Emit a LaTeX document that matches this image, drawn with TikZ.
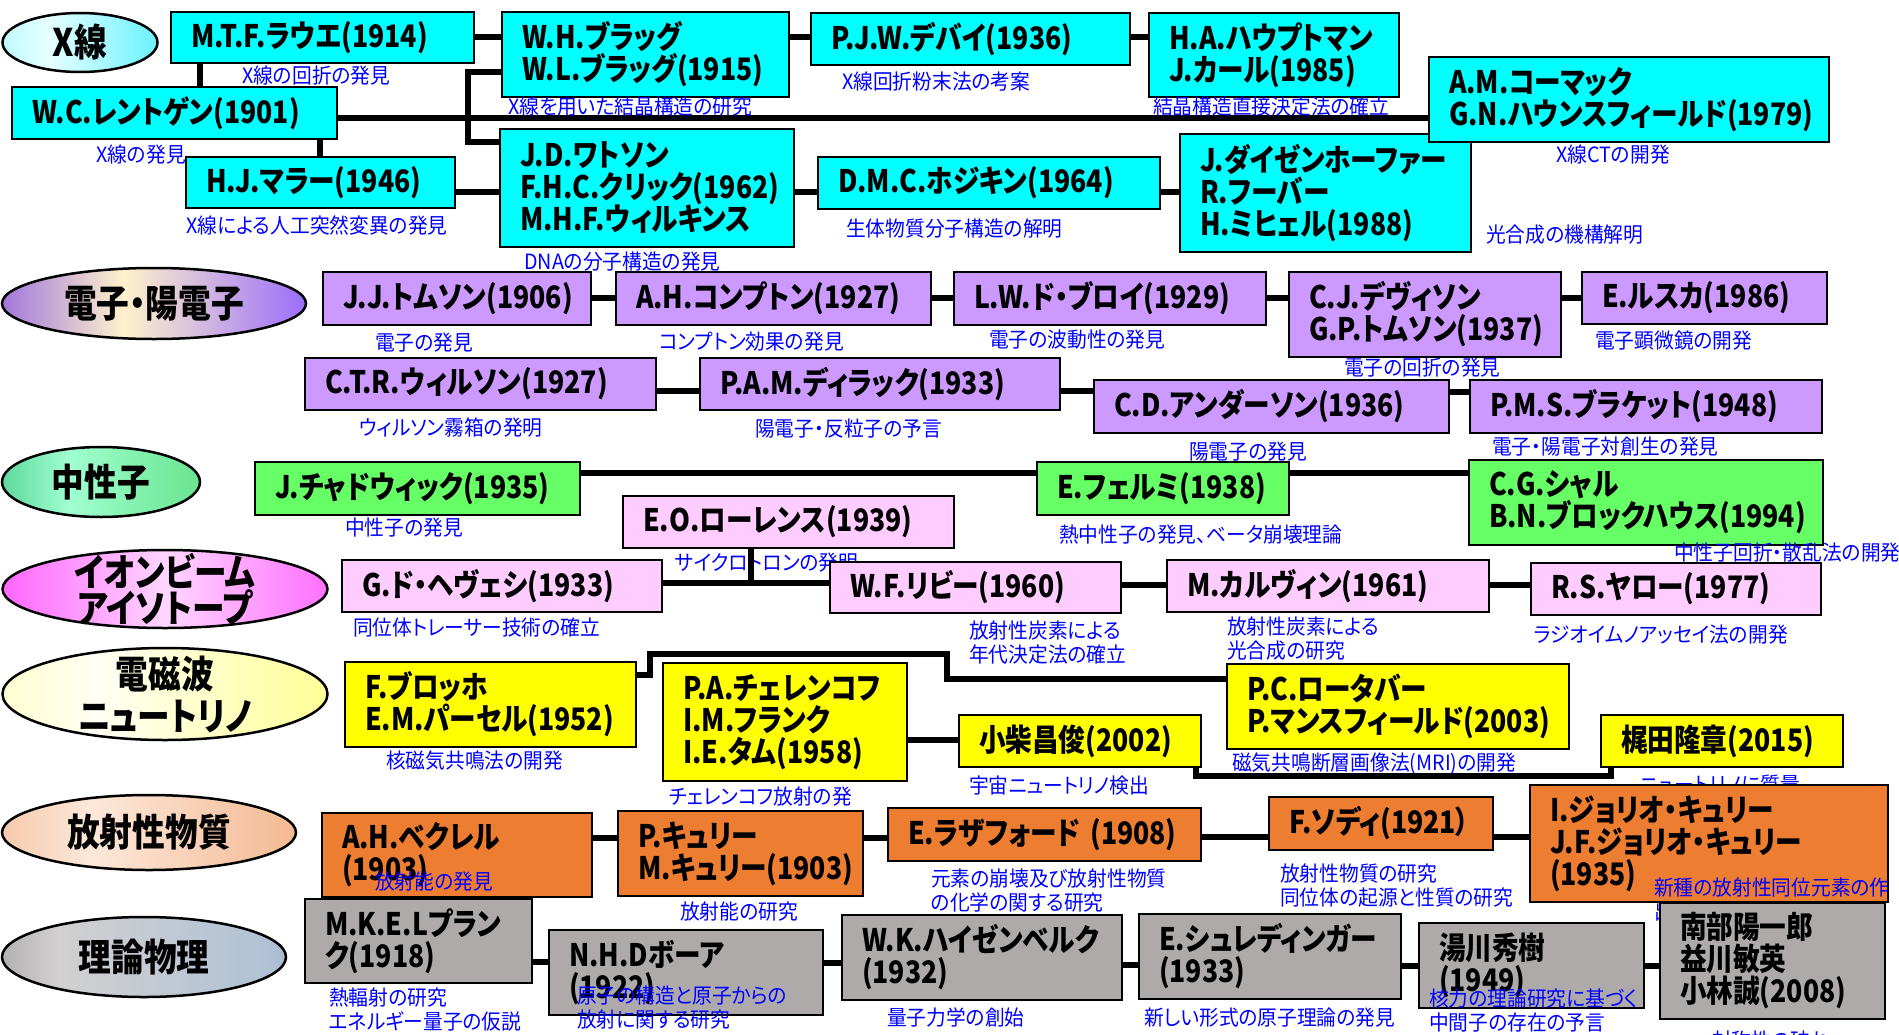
\documentclass[tikz,border=0pt]{standalone}
\usepackage{fontspec}
\setmainfont{Noto Sans CJK JP}[RawFeature={+palt}]
\newfontfamily\boxfont{Noto Sans CJK JP}[RawFeature={+palt},FakeStretch=0.86]
\newfontfamily\lblfont{Noto Sans CJK JP}[RawFeature={+palt},FakeStretch=0.94]
\usetikzlibrary{shapes.geometric}
\definecolor{cyanbox}{HTML}{00FFFF}
\definecolor{purplebox}{HTML}{CC99FF}
\definecolor{greenbox}{HTML}{66FF66}
\definecolor{pinkbox}{HTML}{FFCCFF}
\definecolor{yellowbox}{HTML}{FFFF00}
\definecolor{orangebox}{HTML}{ED7D31}
\definecolor{graybox}{HTML}{AEAAAA}
\definecolor{lblue}{HTML}{0000FF}
\definecolor{sxa}{HTML}{7FF2FF}\definecolor{sxb}{HTML}{E6FFFF}\definecolor{sxc}{HTML}{10E8FF}
\definecolor{sea}{HTML}{4C1A98}\definecolor{seab}{HTML}{8A58E0}\definecolor{seb}{HTML}{FFF2CC}\definecolor{sec}{HTML}{9060FF}\definecolor{sed}{HTML}{6A40D0}
\definecolor{sna}{HTML}{00A050}\definecolor{snb}{HTML}{A0FFD0}\definecolor{snc}{HTML}{40D060}
\definecolor{sia}{HTML}{FF0030}\definecolor{sib}{HTML}{FF66FF}\definecolor{sic}{HTML}{FFD6FF}\definecolor{sid}{HTML}{FF70FF}\definecolor{sie}{HTML}{FF50C8}
\definecolor{sma}{HTML}{FFFF99}\definecolor{smb}{HTML}{FFFFF4}\definecolor{smc}{HTML}{FFFF55}
\definecolor{sra}{HTML}{EE9860}\definecolor{srb}{HTML}{FCE8DA}\definecolor{src}{HTML}{EE9860}
\definecolor{sta}{HTML}{666666}\definecolor{stb}{HTML}{D2D0D0}\definecolor{stc}{HTML}{B0C2D6}\definecolor{std}{HTML}{707070}
\pgfdeclarehorizontalshading{shX}{100bp}{color(0bp)=(sxa); color(40bp)=(sxb); color(100bp)=(sxc)}
\pgfdeclarehorizontalshading{shE}{100bp}{color(0bp)=(sea); color(20bp)=(seab); color(45bp)=(seb); color(78bp)=(sec); color(100bp)=(sed)}
\pgfdeclarehorizontalshading{shN}{100bp}{color(0bp)=(sna); color(42bp)=(snb); color(100bp)=(snc)}
\pgfdeclarehorizontalshading{shI}{100bp}{color(0bp)=(sia); color(25bp)=(sib); color(50bp)=(sic); color(75bp)=(sid); color(100bp)=(sie)}
\pgfdeclarehorizontalshading{shM}{100bp}{color(0bp)=(sma); color(40bp)=(smb); color(100bp)=(smc)}
\pgfdeclarehorizontalshading{shR}{100bp}{color(0bp)=(sra); color(40bp)=(srb); color(100bp)=(src)}
\pgfdeclarehorizontalshading{shT}{100bp}{color(0bp)=(sta); color(35bp)=(stb); color(72bp)=(stc); color(100bp)=(std)}
\newcommand\bx[7]{%
  \pgfmathsetmacro\mybw{#4-#2}%
  \pgfmathsetmacro\mybh{#5-#3}%
  \pgfmathsetmacro\mytw{#4-#2-40}%
  \node[box,fill=#6,minimum width=\mybw pt,minimum height=\mybh pt,text width=\mytw pt] (#1) at ({(#2+#4)/2},{(#3+#5)/2}) {#7};}
\newcommand\lb[4]{\node[lbl] (#1) at (#2,#3) {#4};}
\begin{document}
\begin{tikzpicture}[x=1pt,y=-1pt,
  box/.style={draw=black,line width=2.5pt,inner xsep=20pt,inner ysep=0pt,align=left,font=\boxfont\bfseries\fontsize{31}{32}\selectfont},
  lbl/.style={anchor=west,inner sep=0pt,align=left,text=lblue,font=\lblfont\fontsize{21}{24}\selectfont},
  cat/.style={ellipse,draw=black,line width=2.5pt,inner sep=0pt,shade},
  cattext/.style={inner sep=0pt,align=center,font=\boxfont\bfseries\fontsize{38}{38}\selectfont},
  conn/.style={line width=6pt}]
\fill[white] (0,0) rectangle (1899,1034);
\useasboundingbox (0,0) rectangle (1899,1034);

% ---------- categories
\node[cat,shading=shX,minimum width=155pt,minimum height=59pt] (cX) at (80,42.5) {};
\node[cattext] (cXt) at (cX) {X線};
\node[cat,shading=shE,minimum width=304pt,minimum height=71pt] (cE) at (154,303.5) {};
\node[cattext] (cEt) at (cE) {電子・陽電子};
\node[cat,shading=shN,minimum width=198pt,minimum height=70pt] (cN) at (101,482) {};
\node[cattext] (cNt) at (cN) {中性子};
\node[cat,shading=shI,minimum width=325pt,minimum height=78pt] (cI) at (165,589) {};
\node[cattext,font=\boxfont\bfseries\fontsize{38}{36}\selectfont] (cIt) at (cI) {イオンビーム\\アイソトープ};
\node[cat,shading=shM,minimum width=325pt,minimum height=92pt] (cM) at (165,694) {};
\node[cattext,font=\boxfont\bfseries\fontsize{38}{42}\selectfont] (cMt) at (cM) {電磁波\\ニュートリノ};
\node[cat,shading=shR,minimum width=294pt,minimum height=75pt] (cR) at (149,832.5) {};
\node[cattext] (cRt) at (cR) {放射性物質};
\node[cat,shading=shT,minimum width=284pt,minimum height=80pt] (cT) at (144,957) {};
\node[cattext] (cTt) at (cT) {理論物理};

% ================= X-ray row
\bx{laue}{171}{12}{474}{63}{cyanbox}{M.T.F.ラウエ(1914)}
\bx{roent}{12}{87}{337}{139}{cyanbox}{W.C.レントゲン(1901)}
\bx{muller}{186}{157}{455}{208}{cyanbox}{H.J.マラー(1946)}
\bx{bragg}{502}{12}{789}{97}{cyanbox}{W.H.ブラッグ\\W.L.ブラッグ(1915)}
\bx{watson}{500}{129}{794}{247}{cyanbox}{J.D.ワトソン\\F.H.C.クリック(1962)\\M.H.F.ウィルキンス}
\bx{debye}{811}{13}{1130}{65}{cyanbox}{P.J.W.デバイ(1936)}
\bx{haupt}{1149}{13}{1399}{97}{cyanbox}{H.A.ハウプトマン\\J.カール(1985)}
\bx{hodgkin}{818}{157}{1160}{209}{cyanbox}{D.M.C.ホジキン(1964)}
\bx{deisen}{1180}{134}{1471}{252}{cyanbox}{J.ダイゼンホーファー\\R.フーバー\\H.ミヒェル(1988)}
\bx{cormack}{1429}{57}{1829}{142}{cyanbox}{A.M.コーマック\\G.N.ハウンスフィールド(1979)}
\draw[conn] (laue.south -| 200,0) -- (roent.north -| 200,0);
\draw[conn] (roent.south -| 320,0) -- (muller.north -| 320,0);
\draw[conn] (roent.east |- 0,118) -- (cormack.west |- 0,118);
\draw[conn] (laue.east |- 0,37) -- (bragg.west |- 0,37);
\draw[conn] (bragg.west |- 0,72) -- ++(-33,0) |- (watson.west |- 0,142);
\draw[conn] (muller.east |- 0,192) -- (watson.west |- 0,192);
\draw[conn] (bragg.east |- 0,37) -- (debye.west |- 0,37);
\draw[conn] (debye.east |- 0,37) -- (haupt.west |- 0,37);
\draw[conn] (watson.east |- 0,192) -- (hodgkin.west |- 0,192);
\draw[conn] (hodgkin.east |- 0,192) -- (deisen.west |- 0,192);
\lb{lA1}{242}{76}{X線の回折の発見}
\lb{lA2}{96}{155}{X線の発見}
\lb{lA3}{186}{225}{X線による人工突然変異の発見}
\lb{lA4}{508}{107}{X線を用いた結晶構造の研究}
\lb{lA5}{524}{262}{DNAの分子構造の発見}
\lb{lA6}{842}{82}{X線回折粉末法の考案}
\lb{lA7}{1153}{107}{結晶構造直接決定法の確立}
\lb{lA8}{846}{229}{生体物質分子構造の解明}
\lb{lA9}{1486}{235}{光合成の機構解明}
\lb{lA10}{1556}{155}{X線CTの開発}

% ================= electron row
\bx{thomson}{323}{272}{591}{325}{purplebox}{J.J.トムソン(1906)}
\bx{compton}{616}{272}{931}{325}{purplebox}{A.H.コンプトン(1927)}
\bx{broglie}{954}{272}{1266}{325}{purplebox}{L.W.ド・ブロイ(1929)}
\bx{davisson}{1289}{272}{1561}{357}{purplebox}{C.J.デヴィソン\\G.P.トムソン(1937)}
\bx{ruska}{1582}{272}{1827}{324}{purplebox}{E.ルスカ(1986)}
\bx{wilson}{305}{358}{656}{410}{purplebox}{C.T.R.ウィルソン(1927)}
\bx{dirac}{700}{358}{1060}{410}{purplebox}{P.A.M.ディラック(1933)}
\bx{anderson}{1094}{380}{1449}{433}{purplebox}{C.D.アンダーソン(1936)}
\bx{blackett}{1470}{380}{1822}{433}{purplebox}{P.M.S.ブラケット(1948)}
\draw[conn] (thomson.east |- 0,298) -- (compton.west |- 0,298);
\draw[conn] (compton.east |- 0,298) -- (broglie.west |- 0,298);
\draw[conn] (broglie.east |- 0,298) -- (davisson.west |- 0,298);
\draw[conn] (davisson.east |- 0,298) -- (ruska.west |- 0,298);
\draw[conn] (wilson.east |- 0,391) -- (dirac.west |- 0,391);
\draw[conn] (dirac.east |- 0,391) -- (anderson.west |- 0,391);
\draw[conn] (anderson.east |- 0,392) -- (blackett.west |- 0,392);
\lb{lB1}{375}{343}{電子の発見}
\lb{lB2}{659}{342}{コンプトン効果の発見}
\lb{lB3}{989}{340}{電子の波動性の発見}
\lb{lB4}{1344}{368}{電子の回折の発見}
\lb{lB5}{1595}{341}{電子顕微鏡の開発}
\lb{lB6}{359}{428}{ウィルソン霧箱の発明}
\lb{lB7}{755}{429}{陽電子・反粒子の予言}
\lb{lB8}{1189}{452}{陽電子の発見}
\lb{lB9}{1492}{447}{電子・陽電子対創生の発見}

% ================= neutron row
\bx{chadwick}{255}{462}{580}{515}{greenbox}{J.チャドウィック(1935)}
\bx{fermi}{1037}{462}{1289}{515}{greenbox}{E.フェルミ(1938)}
\bx{shull}{1469}{460}{1823}{545}{greenbox}{C.G.シャル\\B.N.ブロックハウス(1994)}
\draw[conn] (chadwick.east |- 0,473) -- (fermi.west |- 0,473);
\draw[conn] (fermi.east |- 0,473) -- (shull.west |- 0,473);
\lb{lC1}{345}{528}{中性子の発見}
\lb{lC2}{1059}{535}{熱中性子の発見、ベータ崩壊理論}
\lb{lC3}{1674}{553}{中性子回折・散乱法の開発}

% ================= ion beam / isotope row
\bx{lawrence}{623}{496}{954}{548}{pinkbox}{E.O.ローレンス(1939)}
\bx{hevesy}{342}{560}{662}{612}{pinkbox}{G.ド・ヘヴェシ(1933)}
\lb{lD1}{675}{563}{サイクロトロンの発明}
\draw[conn] (lawrence.south -| 751,0) -- ++(0,35);
\draw[conn] (hevesy.east |- 0,583) -- ++(170,0);
\bx{libby}{830}{562}{1121}{613}{pinkbox}{W.F.リビー(1960)}
\bx{calvin}{1167}{560}{1489}{612}{pinkbox}{M.カルヴィン(1961)}
\bx{yalow}{1531}{563}{1821}{615}{pinkbox}{R.S.ヤロー(1977)}
\draw[conn] (libby.east |- 0,585) -- (calvin.west |- 0,585);
\draw[conn] (calvin.east |- 0,585) -- (yalow.west |- 0,585);
\lb{lD2}{353}{628}{同位体トレーサー技術の確立}
\lb{lD3}{969}{643}{放射性炭素による\\年代決定法の確立}
\lb{lD4}{1227}{639}{放射性炭素による\\光合成の研究}
\lb{lD5}{1534}{635}{ラジオイムノアッセイ法の開発}

% ================= EM wave / neutrino row
\bx{bloch}{345}{662}{636}{747}{yellowbox}{F.ブロッホ\\E.M.パーセル(1952)}
\bx{cherenkov}{663}{663}{907}{781}{yellowbox}{P.A.チェレンコフ\\I.M.フランク\\I.E.タム(1958)}
\bx{koshiba}{959}{715}{1201}{767}{yellowbox}{小柴昌俊(2002)}
\bx{rotblat}{1227}{664}{1569}{749}{yellowbox}{P.C.ロータバー\\P.マンスフィールド(2003)}
\bx{kajita}{1601}{715}{1843}{767}{yellowbox}{梶田隆章(2015)}
\draw[conn] (bloch.east |- 0,675) -- ++(13,0) |- (947,654) |- (rotblat.west |- 0,679);
\draw[conn] (cherenkov.east |- 0,740) -- (koshiba.west |- 0,740);
\draw[conn] (koshiba.south -| 1196,0) |- (1611,776) -- (kajita.south -| 1611,0);
\lb{lE1}{386}{761}{核磁気共鳴法の開発}
\lb{lE2}{669}{797}{チェレンコフ放射の発}
\lb{lE3}{969}{786}{宇宙ニュートリノ検出}
\lb{lE4}{1232}{764}{磁気共鳴断層画像法(MRI)の開発}
\lb{lE5}{1640}{785}{ニュートリノに質量}

% ================= radioactive row
\bx{becq}{322}{813}{592}{897}{orangebox}{A.H.ベクレル\\(1903)}
\bx{curie}{618}{811}{863}{896}{orangebox}{P.キュリー\\M.キュリー(1903)}
\bx{ruth}{888}{808}{1201}{861}{orangebox}{E.ラザフォード (1908)}
\bx{soddy}{1269}{797}{1493}{850}{orangebox}{F.ソディ(1921）}
\bx{joliot}{1530}{785}{1888}{902}{orangebox}{I.ジョリオ・キュリー\\J.F.ジョリオ・キュリー\\(1935)}
\draw[conn] (becq.east |- 0,838) -- (curie.west |- 0,838);
\draw[conn] (curie.east |- 0,838) -- (ruth.west |- 0,838);
\draw[conn] (ruth.east |- 0,837) -- (soddy.west |- 0,837);
\draw[conn] (soddy.east |- 0,837) -- (joliot.west |- 0,837);
\lb{lF1}{375}{882}{放射能の発見}
\lb{lF2}{680}{912}{放射能の研究}
\lb{lF3}{931}{891}{元素の崩壊及び放射性物質\\の化学の関する研究}
\lb{lF4}{1280}{886}{放射性物質の研究\\同位体の起源と性質の研究}
\lb{lF5}{1654}{899}{新種の放射性同位元素の作\\出}

% ================= theory row
\bx{planck}{305}{899}{532}{983}{graybox}{M.K.E.Lプラン\\ク(1918)}
\bx{bohr}{549}{930}{823}{1015}{graybox}{N.H.Dボーア\\(1922)}
\bx{heis}{842}{915}{1122}{1000}{graybox}{W.K.ハイゼンベルク\\(1932)}
\bx{schro}{1139}{914}{1401}{999}{graybox}{E.シュレディンガー\\(1933)}
\bx{yukawa}{1419}{923}{1644}{1008}{graybox}{湯川秀樹\\(1949)}
\bx{nambu}{1660}{903}{1885}{1019}{graybox}{南部陽一郎\\益川敏英\\小林誠(2008)}
\draw[conn] (planck.east |- 0,962) -- (bohr.west |- 0,962);
\draw[conn] (bohr.east |- 0,963) -- (heis.west |- 0,963);
\draw[conn] (heis.east |- 0,965) -- (schro.west |- 0,965);
\draw[conn] (schro.east |- 0,966) -- (yukawa.west |- 0,966);
\draw[conn] (yukawa.east |- 0,966) -- (nambu.west |- 0,966);
\lb{lG1}{329}{1010}{熱輻射の研究\\エネルギー量子の仮説}
\lb{lG2}{577}{1008}{原子の構造と原子からの\\放射に関する研究}
\lb{lG3}{887}{1017}{量子力学の創始}
\lb{lG4}{1144}{1018}{新しい形式の原子理論の発見}
\lb{lG5}{1429}{1011}{核力の理論研究に基づく\\中間子の存在の予言}
\lb{lG6}{1712}{1040}{対称性の破れ}
\end{tikzpicture}
\end{document}
